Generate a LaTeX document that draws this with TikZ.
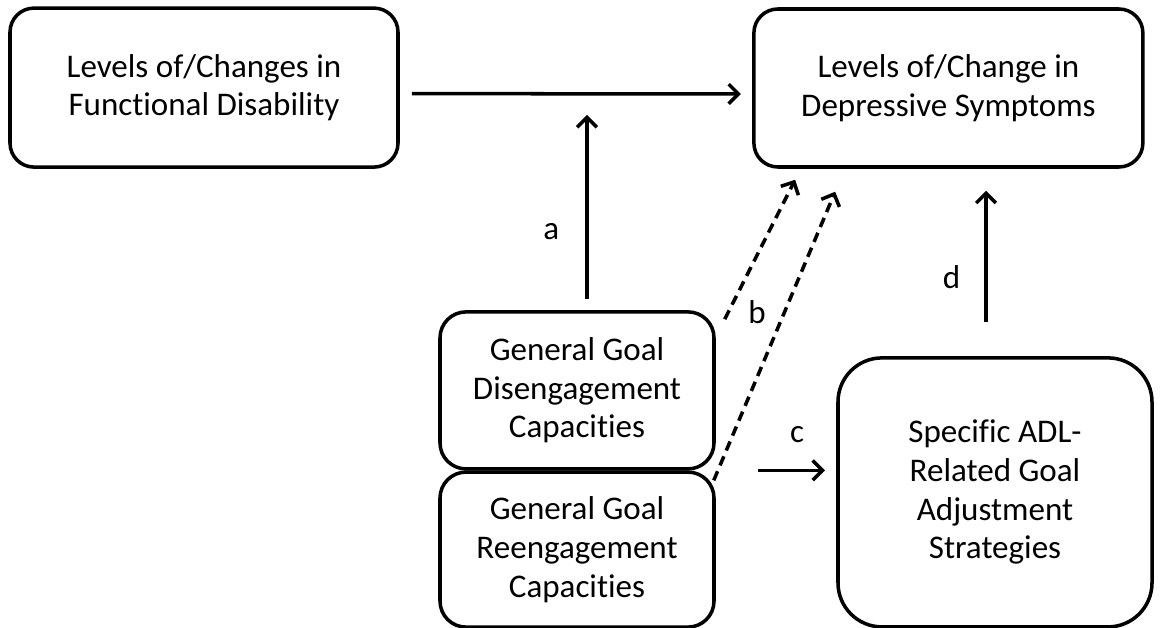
\documentclass[tikz,border=0pt]{standalone}
\usepackage{fontspec}
\setmainfont{Carlito}[Ligatures=NoCommon]
\usetikzlibrary{arrows.meta, positioning, calc}

\tikzset{
    box/.style={rectangle, draw, line width=2.5pt, rounded corners=0.6cm, align=center, inner sep=0pt, font=\fontsize{23.5}{27.5}\selectfont},
    arr/.style={line width=2.5pt, -{Straight Barb[length=7pt,width=14pt,line width=2.5pt]}},
    darr/.style={arr, dash pattern=on 7pt off 4.5pt},
    lbl/.style={font=\fontsize{23.5}{27.5}\selectfont, inner sep=0pt},
}

\begin{document}
\begin{tikzpicture}
    \useasboundingbox (0,0) rectangle (29.025,15.7);

    % Outcome and predictor
    \node[box, minimum width=9.7cm, minimum height=3.975cm] (fd) at (5.1,13.51)
        {Levels of/Changes in\\Functional Disability};
    \node[box, minimum width=9.725cm, minimum height=3.95cm] (ds) at (23.71,13.5)
        {Levels of/Change in\\Depressive Symptoms};

    % General goal adjustment capacities
    \node[box, rounded corners=0.65cm, minimum width=6.85cm, minimum height=3.925cm] (gd) at (14.425,5.94)
        {General Goal\\Disengagement\\Capacities};
    \node[box, rounded corners=0.65cm, minimum width=6.85cm, minimum height=3.875cm] (gr) at (14.425,1.96)
        {General Goal\\Reengagement\\Capacities};

    % Specific strategies
    \node[box, rounded corners=1.1cm, minimum width=7.85cm, minimum height=6.725cm] (adl) at (24.875,3.39)
        {Specific ADL-\\Related Goal\\Adjustment\\Strategies};

    % Paths
    \coordinate (amod) at (14.675,12.825);
    \draw[arr, shorten <=0.3cm, shorten >=0.28cm] ([yshift=-0.15cm]fd.east) -- ([yshift=-0.15cm]ds.west);
    \draw[arr, shorten <=0.28cm] ([xshift=0.25cm]gd.north) -- (amod)
        node[lbl, pos=0.4, left=0.65cm] (la) {a};
    \draw[darr] ([shift={(0.225cm,-0.225cm)}]gd.north east) -- ([shift={(1.075cm,-0.275cm)}]ds.south west);
    \draw[darr] ([shift={(-0.05cm,-0.25cm)}]gr.north east) -- ([shift={(2.075cm,-0.575cm)}]ds.south west);
    \node[lbl] (lb) at (18.925,7.9) {b};
    \draw[arr, shorten >=0.28cm] ([xshift=1.05cm]gr.north east) -- (gr.north east -| adl.west)
        node[lbl, midway, above=0.65cm] (lc) {c};
    \draw[arr, shorten <=0.85cm, shorten >=0.55cm] ([xshift=-0.225cm]adl.north) -- ([xshift=-0.225cm]adl.north |- ds.south)
        node[lbl, pos=0.42, left=0.6cm] (ld) {d};
\end{tikzpicture}
\end{document}
